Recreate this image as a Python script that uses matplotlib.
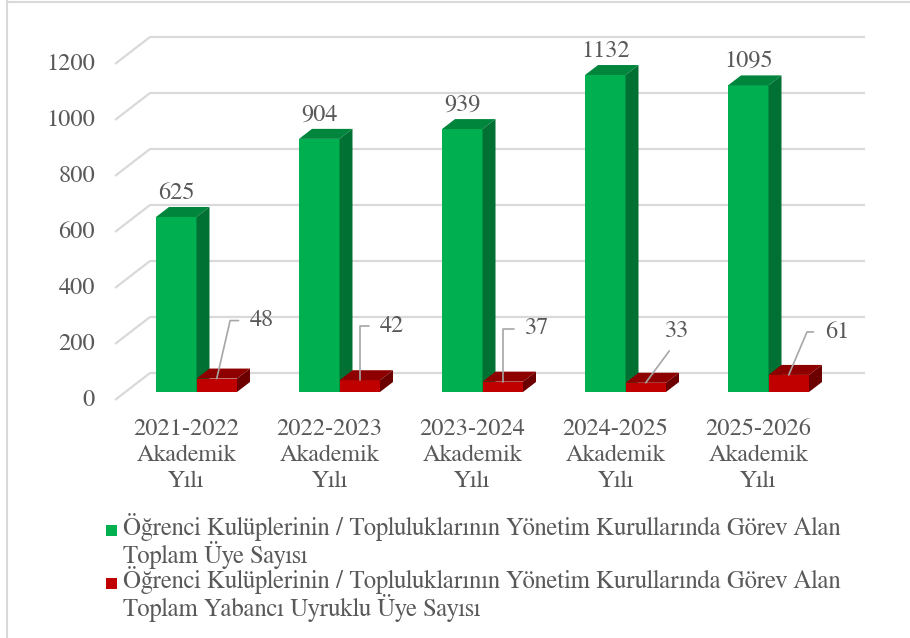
import matplotlib
matplotlib.use("Agg")
import matplotlib.pyplot as plt
from matplotlib.patches import Polygon, Rectangle
from matplotlib.lines import Line2D

# data
years = ["2021-2022", "2022-2023", "2023-2024", "2024-2025", "2025-2026"]
total_members = [625, 904, 939, 1132, 1095]
foreign_members = [48, 42, 37, 33, 61]
y_ticks = [0, 200, 400, 600, 800, 1000, 1200]
series_names = [
    "Öğrenci Kulüplerinin / Topluluklarının Yönetim Kurullarında Görev Alan\nToplam Üye Sayısı",
    "Öğrenci Kulüplerinin / Topluluklarının Yönetim Kurullarında Görev Alan\nToplam Yabancı Uyruklu Üye Sayısı",
]

# layout of the red value labels (pixel offsets) and their leader lines
label_offsets = [(45, 58), (32, 54), (34, 53), (31, 51), (48, 43)]
leader_angles = [77, 90, 90, None, 67]

TEXT = "#595959"
GRID = "#D9D9D9"
FS = 17.5
plt.rcParams["font.family"] = "serif"
plt.rcParams["font.serif"] = ["FreeSerif", "Liberation Serif", "DejaVu Serif"]

W, H = 910, 638
fig = plt.figure(figsize=(W / 100, H / 100), dpi=100)
ax = fig.add_axes([125 / W, 246 / H, 715 / W, 336 / H])
ax.set_xlim(-0.5, 4.5)
ax.set_ylim(0, 1200)
ax.axis("off")

PX = 715 / 5.0      # pixels per category unit
PY = 336 / 1200.0   # pixels per value unit


def off(dx, dy):
    "pixel offset -> data offset"
    return dx / PX, dy / PY


# walls / gridlines
fx, fy = off(-10, -8)
bx, by = off(25, 19)
for t in y_ticks:
    ax.plot([-0.5 + fx, -0.5 + bx, 4.5 + bx], [t + fy, t + by, t + by],
            color=GRID, lw=1.6, zorder=1, clip_on=False, solid_capstyle="butt")
    ax.text(-0.5 + (95 - 125) / PX, t + fy, str(t), ha="right", va="center",
            fontsize=FS, color=TEXT)

w = 40.5 / PX
ddx, ddy = off(13, 10)


def draw_bar(x0, v, face, top, side):
    ax.bar(x0, v, width=w, align="edge", color=face, linewidth=0, zorder=3)
    ax.add_patch(Polygon([(x0, v), (x0 + w, v), (x0 + w + ddx, v + ddy), (x0 + ddx, v + ddy)],
                         closed=True, facecolor=top, linewidth=0, zorder=3, clip_on=False))
    ax.add_patch(Polygon([(x0 + w, 0), (x0 + w + ddx, ddy), (x0 + w + ddx, v + ddy), (x0 + w, v)],
                         closed=True, facecolor=side, linewidth=0, zorder=3, clip_on=False))


for i in range(len(years)):
    draw_bar(i - w, total_members[i], "#00B050", "#00853C", "#007033")
    draw_bar(i, foreign_members[i], "#C00000", "#8E0000", "#6C0000")

    ax.text(i - w / 2, total_members[i] + 24 / PY, str(total_members[i]),
            ha="center", va="center", fontsize=FS, color=TEXT, zorder=5)

    ang = leader_angles[i]
    if ang is None:
        arrow = dict(arrowstyle="-", color="#A6A6A6", lw=1.2, shrinkA=5, shrinkB=0,
                     relpos=(0.45, 0.0), connectionstyle="arc3")
    else:
        arrow = dict(arrowstyle="-", color="#A6A6A6", lw=1.2, shrinkA=6, shrinkB=0,
                     relpos=(0.0, 0.5),
                     connectionstyle="angle,angleA=0,angleB=%d,rad=0" % ang)
    ax.annotate(str(foreign_members[i]), xy=(i + w / 2, foreign_members[i]),
                xytext=label_offsets[i], textcoords="offset pixels",
                ha="center", va="center", fontsize=FS, color=TEXT,
                arrowprops=arrow, zorder=5, annotation_clip=False)

    ax.text(i - 10 / PX, -226, years[i] + "\nAkademik\nYılı", ha="center", va="center",
            fontsize=FS, color=TEXT, linespacing=1.3)

# legend
for k, (col, yc) in enumerate([("#00B050", 541), ("#C00000", 594)]):
    fig.add_artist(Rectangle((106 / W, (H - yc + 5) / H), 11 / W, 11 / H,
                             transform=fig.transFigure, facecolor=col, edgecolor="none"))
    fig.text(123 / W, (H - yc) / H, series_names[k], ha="left", va="center",
             fontsize=17.8, color=TEXT, linespacing=0.98)

# chart border
fig.add_artist(Line2D([7 / W, 7 / W], [0, 1], transform=fig.transFigure, color=GRID, lw=1.5))
fig.add_artist(Line2D([7 / W, 1], [1 - 1.5 / H, 1 - 1.5 / H], transform=fig.transFigure,
                      color=GRID, lw=1.5))

fig.savefig("out.png", dpi=100)
